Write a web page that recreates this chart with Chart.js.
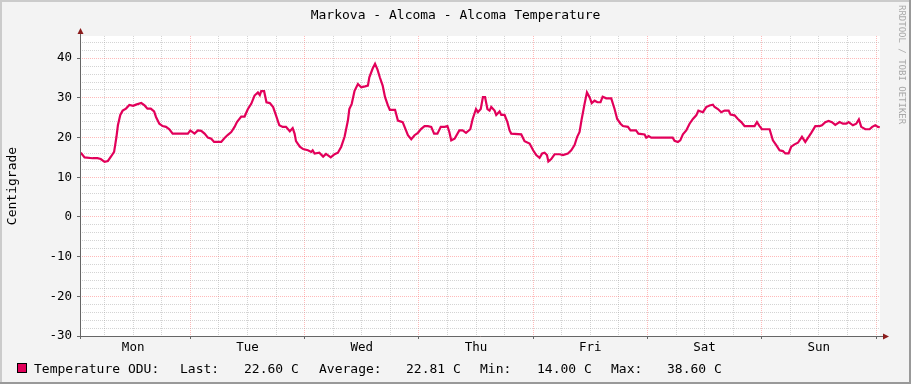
<!DOCTYPE html>
<html>
<head>
<meta charset="utf-8">
<title>Markova - Alcoma - Alcoma Temperature</title>
<script src="https://cdn.jsdelivr.net/npm/chart.js@4.4.1/dist/chart.umd.min.js"></script>
<style>
  html, body { margin: 0; padding: 0; background: #f3f3f3; }
  #wrap { position: relative; width: 911px; height: 384px; }
</style>
</head>
<body>
<div id="wrap"><canvas id="tempChart"></canvas></div>
<script>
// hours since Monday 00:00
var hours = [
  1.0, 1.8, 3.5, 4.5, 5.2, 6.0, 6.7, 7.4, 8.0, 8.5, 8.8, 9.3, 9.8, 10.5, 11.2, 12.0, 12.6, 13.7, 14.4, 15.0,
  15.7, 16.4, 16.8, 17.5, 18.2, 18.9, 19.6, 20.3, 23.5, 24.0, 24.9, 25.6, 26.3, 27.0, 27.7, 28.4, 29.0, 30.5, 31.2, 31.9,
  32.6, 33.3, 33.8, 34.7, 35.4, 36.1, 36.8, 37.5, 38.2, 38.6, 38.9, 39.5, 40.0, 40.7, 41.4, 42.0, 42.7, 43.4, 44.1, 44.9,
  45.5, 45.9, 46.2, 47.0, 47.7, 48.7, 49.4, 49.7, 50.1, 51.1, 51.9, 52.5, 53.5, 54.3, 55.0, 55.7, 56.4, 57.1, 57.4, 57.9,
  58.5, 59.2, 59.9, 60.7, 61.3, 61.6, 62.3, 62.8, 63.3, 63.8, 64.4, 64.9, 65.5, 65.9, 67.0, 67.6, 68.6, 69.3, 69.7, 70.4,
  71.1, 71.8, 72.5, 73.2, 73.9, 74.6, 75.2, 75.9, 76.6, 77.4, 78.0, 78.4, 78.8, 79.5, 80.5, 81.2, 81.9, 82.8, 83.3, 84.0,
  84.4, 85.0, 85.45, 85.9, 86.4, 86.85, 87.2, 87.9, 88.25, 88.95, 89.3, 90.0, 90.6, 91.05, 91.4, 93.5, 94.2, 95.25, 96.0, 96.65,
  97.35, 97.9, 98.4, 98.9, 99.2, 99.8, 100.5, 101.55, 102.25, 103.3, 104.0, 104.7, 105.25, 105.75, 106.2, 106.8, 107.3, 107.85, 108.3, 108.9,
  109.5, 110.15, 110.6, 111.35, 112.4, 113.1, 113.65, 114.35, 114.85, 115.9, 116.45, 117.6, 118.1, 119.4, 119.75, 120.25, 120.8, 125.3, 125.7, 126.4,
  126.9, 127.45, 128.15, 128.85, 129.55, 130.25, 130.7, 131.65, 132.35, 133.05, 133.75, 134.1, 134.8, 135.5, 136.2, 137.05, 137.45, 138.3, 139.0, 139.7,
  140.4, 142.5, 143.0, 143.55, 144.05, 145.65, 146.35, 147.05, 147.75, 148.45, 148.95, 149.65, 150.2, 150.9, 151.6, 152.45, 153.15, 153.85, 154.4, 155.25,
  156.15, 156.65, 157.35, 158.05, 158.75, 159.45, 160.35, 161.05, 161.75, 162.25, 163.15, 163.85, 164.4, 164.9, 165.75, 166.65, 167.2, 167.85, 168.4, 168.8
];
var temps = [
  16.2, 15.0, 14.8, 14.8, 14.6, 13.9, 14.1, 15.3, 16.4, 20.2, 23.1, 25.7, 26.8, 27.3, 28.2, 28.0, 28.3, 28.7, 28.1, 27.3,
  27.3, 26.6, 25.2, 23.5, 22.9, 22.7, 22.1, 21.0, 21.0, 21.8, 21.0, 21.8, 21.7, 21.0, 20.0, 19.7, 18.9, 18.9, 19.9, 20.7,
  21.4, 22.7, 23.9, 25.3, 25.3, 27.2, 28.5, 30.6, 31.4, 30.7, 31.7, 31.7, 28.9, 28.7, 27.7, 25.6, 23.1, 22.7, 22.7, 21.6,
  22.4, 21.0, 19.1, 17.7, 17.1, 16.8, 16.4, 16.8, 16.0, 16.2, 15.2, 15.9, 15.0, 15.8, 16.2, 17.7, 20.2, 24.3, 27.2, 28.5,
  31.8, 33.5, 32.7, 32.9, 33.1, 35.2, 37.4, 38.6, 37.2, 35.2, 33.1, 30.2, 28.1, 27.0, 27.0, 24.3, 23.9, 21.8, 20.6, 19.6,
  20.6, 21.2, 22.2, 22.9, 22.9, 22.7, 21.0, 21.0, 22.7, 22.7, 22.9, 21.4, 19.3, 19.7, 21.8, 21.8, 21.2, 22.1, 24.7, 27.2,
  26.4, 27.2, 30.2, 30.2, 27.2, 26.8, 27.7, 26.8, 25.7, 26.6, 25.7, 25.7, 23.9, 21.8, 21.0, 20.8, 19.1, 18.5, 16.8, 15.6,
  14.9, 16.0, 16.2, 15.6, 14.0, 14.6, 15.8, 15.8, 15.6, 16.0, 16.8, 18.1, 20.2, 21.4, 24.7, 28.5, 31.4, 30.2, 28.7, 29.3,
  28.9, 28.9, 30.3, 29.9, 29.9, 27.2, 24.7, 23.5, 22.9, 22.7, 21.8, 21.8, 21.0, 20.8, 20.0, 20.4, 20.0, 20.0, 19.2, 18.9,
  19.3, 20.8, 21.8, 23.5, 24.7, 25.6, 26.8, 26.4, 27.7, 28.1, 28.3, 27.7, 27.2, 26.4, 26.8, 26.8, 25.8, 25.6, 24.7, 23.9,
  22.9, 22.9, 23.9, 22.9, 22.1, 22.1, 19.3, 18.1, 16.8, 16.6, 16.0, 16.0, 17.7, 18.3, 18.7, 20.2, 18.9, 20.2, 21.2, 22.9,
  22.9, 23.1, 23.9, 24.2, 23.9, 23.2, 23.9, 23.5, 23.5, 23.9, 23.1, 23.5, 24.6, 22.7, 22.1, 22.1, 22.7, 23.1, 22.7, 22.6
];

var dayNames = ['Mon', 'Tue', 'Wed', 'Thu', 'Fri', 'Sat', 'Sun'];
var xGridHours = [6, 12, 18, 24, 30, 36, 42, 48, 54, 60, 66, 72, 78, 84, 90, 96, 102, 108, 114, 120,
                  126, 132, 138, 144, 150, 156, 162, 168];
var yGridValues = [-30, -28, -26, -24, -22, -20, -18, -16, -14, -12, -10, -8, -6, -4, -2, 0, 2, 4, 6, 8,
                   10, 12, 14, 16, 18, 20, 22, 24, 26, 28, 30, 32, 34, 36, 38, 40, 42, 44];
var yMin = -30, yMax = 45.6;
var xMin = 0.84, xMax = 168.84;

var titleText = 'Markova - Alcoma - Alcoma Temperature';
var yTitle = 'Centigrade';
var seriesName = 'Temperature ODU:';
var statNames = ['Last:', 'Average:', 'Min:', 'Max:'];
var statValues = ['22.60 C', '22.81 C', '14.00 C', '38.60 C'];
var watermark = 'RRDTOOL / TOBI OETIKER';

var LINE = '#e2005a';
var MAJOR = 'rgba(255,90,90,0.42)';
var MINOR = 'rgba(160,160,160,0.45)';
var MONO = '"DejaVu Sans Mono", "Liberation Mono", monospace';

var rrdDecor = {
  id: 'rrdDecor',
  beforeDraw: function(chart){
    var c = chart.ctx, a = chart.chartArea;
    c.save();
    c.fillStyle = '#f3f3f3';
    c.fillRect(0, 0, chart.width, chart.height);
    c.fillStyle = '#ffffff';
    c.fillRect(a.left, a.top, a.right - a.left, a.bottom - a.top);
    c.restore();
  },
  afterDraw: function(chart){
    var c = chart.ctx, a = chart.chartArea, W = chart.width, H = chart.height;
    c.save();
    // frame
    c.fillStyle = '#cbcbcb';
    c.fillRect(0, 0, W, 2); c.fillRect(0, 0, 2, H);
    c.fillStyle = '#999999';
    c.fillRect(0, H - 2, W, 2); c.fillRect(W - 2, 0, 2, H);

    // axes
    c.strokeStyle = '#666666'; c.lineWidth = 1;
    c.beginPath();
    c.moveTo(a.left + 0.5, a.bottom + 3); c.lineTo(a.left + 0.5, a.top - 4);
    c.moveTo(a.left - 3, a.bottom + 0.5); c.lineTo(a.right + 4, a.bottom + 0.5);
    c.stroke();
    c.fillStyle = '#8b1c1c';
    c.beginPath();
    c.moveTo(a.left + 0.5, a.top - 8); c.lineTo(a.left - 2.5, a.top - 2); c.lineTo(a.left + 3.5, a.top - 2);
    c.closePath(); c.fill();
    c.beginPath();
    c.moveTo(a.right + 9, a.bottom + 0.5); c.lineTo(a.right + 3, a.bottom - 2.5); c.lineTo(a.right + 3, a.bottom + 3.5);
    c.closePath(); c.fill();

    // title
    c.fillStyle = '#000';
    c.font = '13px ' + MONO;
    c.textAlign = 'center'; c.textBaseline = 'alphabetic';
    c.fillText(titleText, 455.5, 19);

    // y axis title
    c.save();
    c.translate(16, (a.top + a.bottom) / 2);
    c.rotate(-Math.PI / 2);
    c.fillText(yTitle, 0, 0);
    c.restore();

    // watermark
    c.save();
    c.fillStyle = '#a8a8a8';
    c.font = '9px ' + MONO;
    c.translate(899, 5);
    c.rotate(Math.PI / 2);
    c.textAlign = 'left';
    c.fillText(watermark, 0, 0);
    c.restore();

    // legend
    c.fillStyle = LINE;
    c.fillRect(17, 363, 10, 10);
    c.strokeStyle = '#000'; c.lineWidth = 1;
    c.strokeRect(17.5, 363.5, 9, 9);
    c.fillStyle = '#000';
    c.font = '13px ' + MONO;
    c.textAlign = 'left';
    c.fillText(seriesName, 34, 373);
    var nameX = [180, 319, 480, 611], valX = [244, 406, 537, 667];
    for (var i = 0; i < statNames.length; i++) {
      c.fillText(statNames[i], nameX[i], 373);
      c.fillText(statValues[i], valX[i], 373);
    }
    c.restore();
  }
};

var points = hours.map(function(h, i){ return { x: h, y: temps[i] }; });

new Chart(document.getElementById('tempChart'), {
  type: 'line',
  data: {
    datasets: [{
      label: 'Temperature ODU',
      data: points,
      borderColor: LINE,
      borderWidth: 2.2,
      pointRadius: 0,
      tension: 0,
      fill: false
    }]
  },
  options: {
    responsive: true,
    maintainAspectRatio: false,
    animation: false,
    events: [],
    layout: { padding: { left: 0, top: 36, right: 31, bottom: 0 } },
    plugins: { legend: { display: false }, title: { display: false }, tooltip: { enabled: false } },
    scales: {
      x: {
        type: 'linear',
        min: xMin, max: xMax,
        afterFit: function(s){ s.height = 48; },
        afterBuildTicks: function(s){ s.ticks = xGridHours.map(function(v){ return { value: v }; }); },
        border: { display: false, dash: [1, 1] },
        grid: {
          color: function(ctx){ return ctx.tick && ctx.tick.value % 24 === 0 ? MAJOR : MINOR; },
          tickColor: function(ctx){ return ctx.tick && ctx.tick.value % 24 === 0 ? '#666666' : 'rgba(0,0,0,0)'; },
          tickLength: 3,
          tickBorderDash: []
        },
        ticks: {
          autoSkip: false, maxRotation: 0, padding: 1,
          color: '#000',
          font: { family: MONO, size: 12.5 },
          callback: function(v){ return v % 24 === 12 ? dayNames[(v - 12) / 24] : ''; }
        }
      },
      y: {
        type: 'linear',
        min: yMin, max: yMax,
        afterFit: function(s){ s.width = 80; },
        afterBuildTicks: function(s){ s.ticks = yGridValues.map(function(v){ return { value: v }; }); },
        border: { display: false, dash: [1, 1] },
        grid: {
          color: function(ctx){ return ctx.tick && ctx.tick.value % 10 === 0 ? MAJOR : MINOR; },
          tickColor: function(ctx){ return ctx.tick && ctx.tick.value % 10 === 0 ? '#666666' : 'rgba(0,0,0,0)'; },
          tickLength: 3,
          tickBorderDash: []
        },
        ticks: {
          autoSkip: false, padding: 5,
          color: '#000',
          font: { family: MONO, size: 12.5 },
          callback: function(v){ return v % 10 === 0 ? String(v) : ''; }
        }
      }
    }
  },
  plugins: [rrdDecor]
});
</script>
</body>
</html>
